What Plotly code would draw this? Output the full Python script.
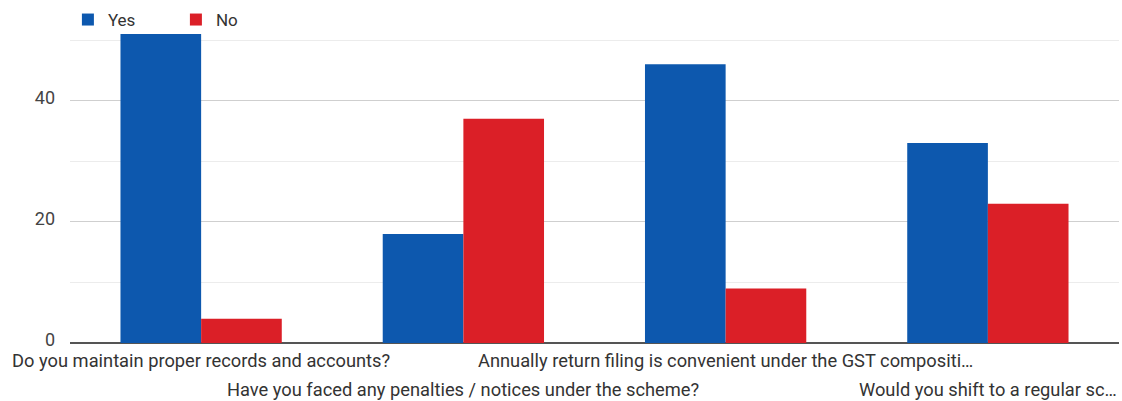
import plotly.graph_objects as go

categories = [
    "Do you maintain proper records and accounts?",
    "Have you faced any penalties / notices under the scheme?",
    "Annually return filing is convenient under the GST compositi…",
    "Would you shift to a regular sc…",
]
yes_values = [51, 18, 46, 33]
no_values = [4, 37, 9, 23]
y_tick_values = [0, 20, 40]
y_tick_labels = ["0", "20", "40"]

BLUE = "#0d58ae"
RED = "#db1f27"
FONT = "Roboto"
LABEL_SIZE = 18.3

fig = go.Figure()
fig.add_trace(go.Bar(name="Yes", x=categories, y=yes_values, marker=dict(color=BLUE, line=dict(width=0))))
fig.add_trace(go.Bar(name="No", x=categories, y=no_values, marker=dict(color=RED, line=dict(width=0))))

even_text = [c if i % 2 == 0 else "" for i, c in enumerate(categories)]

# staggered second row of category labels
for i, c in enumerate(categories):
    if i % 2 == 1:
        fig.add_annotation(
            x=c, xref="x", y=0, yref="paper",
            text=c, showarrow=False,
            xanchor="center", yanchor="top", yshift=-34,
            font=dict(family=FONT, size=LABEL_SIZE, color="#333333"),
        )

fig.update_layout(
    width=1122,
    height=401,
    margin=dict(l=70, r=3, t=30, b=58),
    paper_bgcolor="white",
    plot_bgcolor="white",
    barmode="group",
    bargap=0.385,
    bargroupgap=0,
    font=dict(family=FONT, size=17, color="#333333"),
    showlegend=True,
    legend=dict(
        orientation="h",
        x=-0.002,
        xanchor="left",
        y=1.032,
        yanchor="middle",
        font=dict(family=FONT, size=17, color="#333333"),
        bgcolor="rgba(0,0,0,0)",
        entrywidth=63,
        entrywidthmode="pixels",
    ),
    xaxis=dict(
        type="category",
        categoryarray=categories,
        range=[-0.5, 3.5],
        tickmode="array",
        tickvals=categories,
        ticktext=even_text,
        ticks="",
        showgrid=False,
        showline=False,
        zeroline=False,
        tickfont=dict(family=FONT, size=LABEL_SIZE, color="#333333"),
        ticklabelstandoff=5,
    ),
    yaxis=dict(
        range=[0, 51.5],
        tickmode="array",
        tickvals=y_tick_values,
        ticktext=y_tick_labels,
        showgrid=True,
        gridcolor="#cfcfcf",
        gridwidth=1,
        minor=dict(dtick=10, tick0=0, showgrid=True, gridcolor="#ececec", gridwidth=1),
        zeroline=True,
        zerolinecolor="#555555",
        zerolinewidth=2,
        showline=False,
        ticks="",
        tickfont=dict(family=FONT, size=18, color="#444444"),
        ticklabelstandoff=14,
        ticklabelshift=-3,
    ),
)

fig.write_html("out.html")
